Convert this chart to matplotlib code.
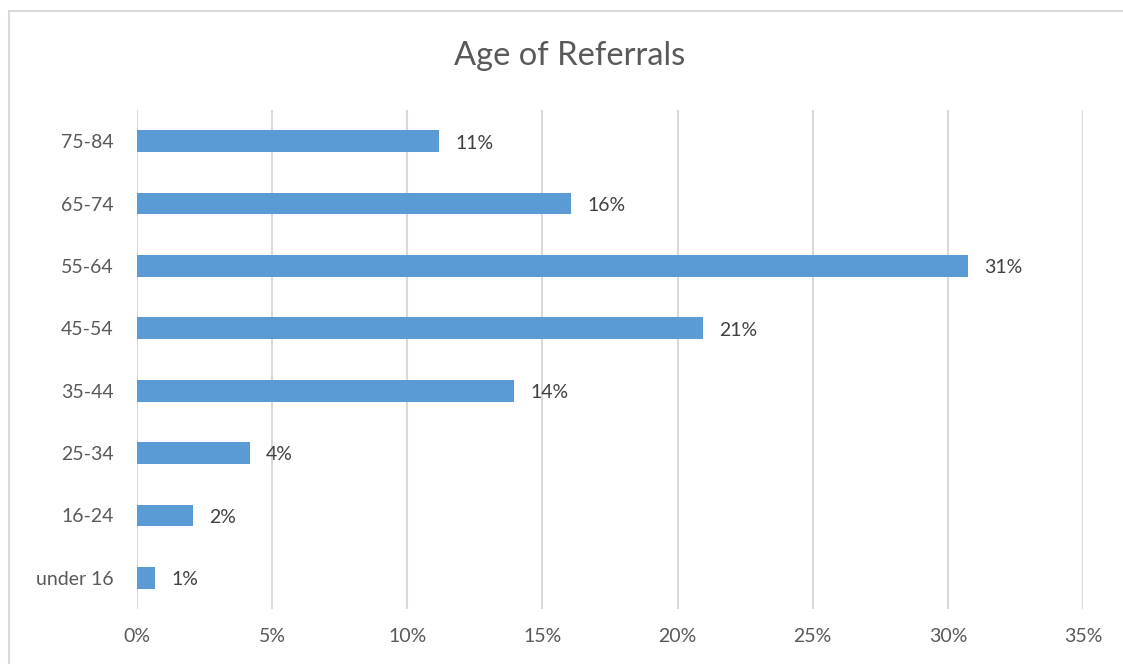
import matplotlib.pyplot as plt
from matplotlib.patches import Rectangle

# referral share by age band (percent)
ages = ['under 16', '16-24', '25-34', '35-44', '45-54', '55-64', '65-74', '75-84']
share = [0.68, 2.07, 4.18, 13.95, 20.94, 30.73, 16.06, 11.18]
xticks = [0, 5, 10, 15, 20, 25, 30, 35]

plt.rcParams['font.family'] = ['Lato', 'DejaVu Sans']
txt_col = '#595959'
bar_col = '#5b9bd5'

fig = plt.figure(figsize=(11.23, 6.64), dpi=100)
ax = fig.add_axes([137/1123, 1 - 609/664, (1083-137)/1123, (609-110)/664])

# chart frame (top/left edges visible)
fig.patches.append(Rectangle((9/1123, -0.1), 1.2, 1 - 11/664 + 0.1,
                             transform=fig.transFigure, fill=False,
                             edgecolor='#d9d9d9', lw=1.5))

y = range(len(ages))
ax.barh(y, share, height=0.35, color=bar_col, zorder=3)
for i, v in enumerate(share):
    ax.text(v + 0.6, i - 0.03, f'{v:.0f}%', va='center', ha='left',
            fontsize=14, color='#404040')

ax.set_xlim(0, 35)
ax.set_ylim(-0.5, len(ages) - 0.5)
ax.set_xticks(xticks)
ax.set_xticklabels([f'{t}%' for t in xticks])
ax.set_yticks(list(y))
ax.set_yticklabels(ages)
ax.tick_params(length=0, labelsize=14, labelcolor=txt_col)
ax.tick_params(axis='x', pad=14)
ax.tick_params(axis='y', pad=17)
ax.grid(axis='x', color='#d9d9d9', lw=1.5, zorder=0)
for s in ax.spines.values():
    s.set_visible(False)

fig.text(570/1123, 1 - 56/664, 'Age of Referrals', ha='center', va='center',
         fontsize=23.5, color=txt_col)

fig.savefig('out.png', dpi=100)
